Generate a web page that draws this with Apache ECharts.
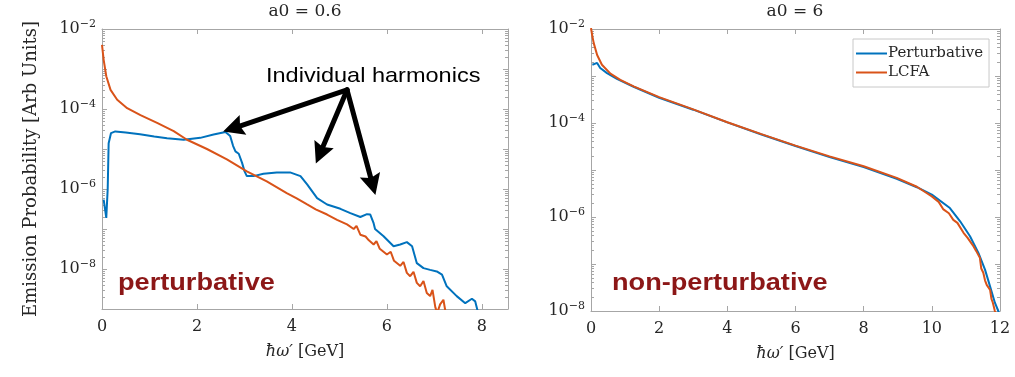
<!DOCTYPE html>
<html><head><meta charset="utf-8">
<script src="https://cdn.jsdelivr.net/npm/echarts@6.0.0/dist/echarts.min.js"></script>
<style>html,body{margin:0;padding:0;background:#fff}#c{width:1015px;height:377px}</style>
</head><body><div id="c"></div>
<script>
// ---- Data ----
// Left panel: a0 = 0.6
const leftPertX = [0.035,0.09,0.12,0.14,0.19,0.28,0.5,0.8,1.1,1.37,1.72,2.07,2.35,2.6,2.7,2.76,2.81,2.88,2.95,3.0,3.05,3.19,3.4,3.68,3.96,4.18,4.32,4.53,4.74,5.02,5.23,5.44,5.58,5.65,5.72,5.75,5.93,6.14,6.28,6.42,6.53,6.63,6.77,6.91,7.05,7.16,7.26,7.47,7.65,7.79,7.86,7.91];
const leftPertY = [5.4e-7,1.9e-7,1.0e-6,1.4e-5,2.5e-5,2.75e-5,2.6e-5,2.35e-5,2.05e-5,1.85e-5,1.7e-5,1.9e-5,2.3e-5,2.65e-5,2.1e-5,1.2e-5,8.7e-6,7.6e-6,4.5e-6,2.8e-6,2.1e-6,2.1e-6,2.4e-6,2.6e-6,2.6e-6,2.1e-6,1.3e-6,5.9e-7,4.1e-7,3.2e-7,2.5e-7,2.0e-7,2.35e-7,2.3e-7,1.4e-7,1.0e-7,6.6e-8,3.7e-8,4.1e-8,4.7e-8,3.7e-8,1.4e-8,1.05e-8,9.5e-9,8.7e-9,7.2e-9,3.7e-9,2.1e-9,1.4e-9,1.8e-9,1.55e-9,9e-10];
const leftLcfaX = [0.0,0.035,0.09,0.18,0.32,0.53,0.81,1.16,1.51,1.79,2.21,2.63,3.05,3.47,3.89,4.1,4.32,4.5,4.74,4.95,5.16,5.3,5.36,5.44,5.55,5.62,5.72,5.78,5.85,6.0,6.08,6.15,6.28,6.35,6.42,6.49,6.56,6.63,6.7,6.77,6.84,6.91,6.96,7.02,7.06,7.12,7.19,7.23];
const leftLcfaY = [4.0e-3,1.7e-3,6.6e-4,3.0e-4,1.7e-4,1.05e-4,7.0e-5,4.5e-5,2.8e-5,1.7e-5,1.0e-5,5.5e-6,2.75e-6,1.55e-6,7.9e-7,5.8e-7,4.1e-7,3.1e-7,2.3e-7,1.7e-7,1.3e-7,1.0e-7,1.2e-7,7.2e-8,6.5e-8,5.2e-8,4.1e-8,5.0e-8,3.2e-8,2.3e-8,2.7e-8,1.6e-8,1.2e-8,1.5e-8,8e-9,6.6e-9,8.5e-9,4.5e-9,3.7e-9,5e-9,2.5e-9,2.1e-9,3e-9,1.1e-9,8e-10,1.3e-9,1.7e-9,9e-10];
// Right panel: a0 = 6
const rightPertX = [0.04,0.18,0.27,0.47,0.76,1.25,2.0,3.0,4.0,5.0,6.0,7.0,8.0,8.97,9.56,10.0,10.53,10.83,11.12,11.37,11.56,11.71,11.85,11.95,12.0];
const rightPertY = [1.74e-3,1.9e-3,1.48e-3,1.15e-3,8.7e-4,5.9e-4,3.45e-4,1.92e-4,1.03e-4,5.7e-5,3.25e-5,1.88e-5,1.15e-5,6.5e-6,4.3e-6,3.0e-6,1.55e-6,8.1e-7,3.9e-7,1.7e-7,7.6e-8,3.3e-8,1.5e-8,1.0e-8,7e-9];
const rightLcfaX = [0.0,0.04,0.08,0.18,0.32,0.57,0.86,1.25,2.0,3.0,4.0,5.0,6.0,7.0,8.0,8.97,9.56,9.8,10.0,10.2,10.34,10.5,10.63,10.75,10.93,11.05,11.22,11.3,11.41,11.45,11.51,11.56,11.61,11.66,11.71,11.75,11.79,11.85,11.9];
const rightLcfaY = [1.05e-2,7.0e-3,5.0e-3,2.8e-3,1.74e-3,1.12e-3,8.3e-4,6.0e-4,3.55e-4,1.95e-4,1.04e-4,5.8e-5,3.3e-5,1.95e-5,1.2e-5,6.8e-6,4.4e-6,3.4e-6,2.75e-6,2.1e-6,1.45e-6,1.2e-6,8.7e-7,7.5e-7,4.6e-7,3.6e-7,2.4e-7,1.9e-7,1.35e-7,8e-8,6.5e-8,4.5e-8,3.6e-8,3.3e-8,2.8e-8,1.8e-8,1.5e-8,1.0e-8,8e-9];
// Annotation arrows (data coordinates, left panel): common start, arrowhead centres
const arrowStart = [5.16, 3.0e-4];
const arrowHeads = [[2.76, 3.3e-5],[4.59, 7.6e-6],[5.70, 1.26e-6]];
const seriesNames = ['Perturbative','LCFA'];
const panelTitles = ['a0 = 0.6','a0 = 6'];
const leftXTicks = [0,2,4,6,8];
const rightXTicks = [0,2,4,6,8,10,12];

const zip = (xs, ys) => xs.map((x,i)=>[x, ys[i]]);
const SERIF = '"DejaVu Serif", "Liberation Serif", serif';
const SANS = '"Liberation Sans", Arial, sans-serif';
const BLUE = '#0072BD', ORANGE = '#D95319', AXC = '#a6a6a6', TXT = '#262626';

const supFmt = v => {
  const e = Math.round(Math.log10(v));
  if (e % 2 !== 0) return '';
  return '{b|10}{s|−' + (-e) + '}';
};
const yRich = { b:{fontFamily:SERIF,fontSize:16,color:TXT}, s:{fontFamily:SERIF,fontSize:11,color:TXT,padding:[0,0,10,0]} };

function xAx(grid, max, pos, show) {
  return { type:'value', gridIndex:grid, min:0, max:max, interval:2, position:pos,
    axisLine:{show:true,onZero:false,lineStyle:{color:AXC,width:1}},
    axisTick:{show:true,inside:true,length:5,lineStyle:{color:AXC}},
    axisLabel:{show:show,margin:10,fontFamily:SERIF,fontSize:16,color:TXT, showMaxLabel:true,
      formatter: v => (max>9 ? rightXTicks : leftXTicks).includes(v) ? String(v) : ''},
    splitLine:{show:false},
    name: show ? '{i|ħω′} [GeV]' : '', nameLocation:'middle', nameGap:35,
    nameTextStyle:{fontFamily:SERIF,fontSize:16,color:TXT,rich:{i:{fontFamily:SERIF,fontStyle:'italic',fontSize:16,color:TXT}}}
  };
}
function yAx(grid, min, pos, show, name) {
  return { type:'log', logBase:10, gridIndex:grid, min:min, max:1e-2, position:pos,
    axisLine:{show:true,onZero:false,lineStyle:{color:AXC,width:1}},
    axisTick:{show:true,inside:true,length:5,lineStyle:{color:AXC}},
    minorTick:{show:true,splitNumber:9,length:3,lineStyle:{color:AXC}},
    axisLabel:{show:show,margin:6,formatter:supFmt,rich:yRich},
    splitLine:{show:false},
    name:name||'', nameLocation:'middle', nameGap:62, nameRotate:90,
    nameTextStyle:{fontFamily:SERIF,fontSize:18,color:TXT}
  };
}

const chart = echarts.init(document.getElementById('c'), null, {renderer:'canvas'});
const lineS = (name, data, color, xi, yi, extra) => Object.assign({
  name, type:'line', data, xAxisIndex:xi, yAxisIndex:yi, symbol:'none', showSymbol:false,
  lineStyle:{color, width:2}, itemStyle:{color}, clip:true, z:3
}, extra||{});

chart.setOption({
  animation:false,
  grid:[
    {left:102, top:29, width:406, height:280},
    {left:591, top:29, width:409, height:282}
  ],
  xAxis:[ xAx(0,8.55,'bottom',true), xAx(0,8.55,'top',false), xAx(1,12,'bottom',true), xAx(1,12,'top',false) ],
  yAxis:[ yAx(0,1e-9,'left',true,'Emission Probability [Arb Units]'), yAx(0,1e-9,'right',false), yAx(1,1e-8,'left',true), yAx(1,1e-8,'right',false) ],
  legend:{ data:seriesNames, orient:'vertical', left:853, top:39, icon:'rect', itemWidth:31, itemHeight:2, itemGap:4,
    padding:[7,6,7,3], borderColor:'#c8c8c8', borderWidth:1, backgroundColor:'#fff',
    textStyle:{fontFamily:SERIF,fontSize:15,color:TXT,padding:[0,0,0,-4]} },
  series:[
    lineS(seriesNames[0], zip(leftPertX,leftPertY), BLUE, 0, 0, {
      markLine:{ silent:true, symbol:['none','path://M0,-10 L10,10 L0,7 L-10,10 Z'], symbolSize:21, label:{show:false},
        lineStyle:{color:'#000',width:5,type:'solid',cap:'round'}, itemStyle:{color:'#000'}, emphasis:{disabled:true},
        data: arrowHeads.map(t => [{coord:arrowStart},{coord:t}]) }
    }),
    lineS(seriesNames[1], zip(leftLcfaX,leftLcfaY), ORANGE, 0, 0),
    lineS(seriesNames[0], zip(rightPertX,rightPertY), BLUE, 2, 2),
    lineS(seriesNames[1], zip(rightLcfaX,rightLcfaY), ORANGE, 2, 2)
  ],
  graphic:[
    {type:'text', x:305, y:3, style:{text:panelTitles[0], font:'17px '+SERIF, fill:TXT, align:'center'}},
    {type:'text', x:795, y:3, style:{text:panelTitles[1], font:'17px '+SERIF, fill:TXT, align:'center'}},
    {type:'text', x:118, y:284, scaleX:1.18, style:{text:'perturbative', font:'bold 23px '+SANS, fill:'#8c1717', verticalAlign:'middle'}},
    {type:'text', x:612, y:284, scaleX:1.18, style:{text:'non-perturbative', font:'bold 23px '+SANS, fill:'#8c1717', verticalAlign:'middle'}},
    {type:'text', x:266, y:76, scaleX:1.12, style:{text:'Individual harmonics', font:'21px '+SANS, fill:'#000', verticalAlign:'middle'}}
  ]
});
</script></body></html>
